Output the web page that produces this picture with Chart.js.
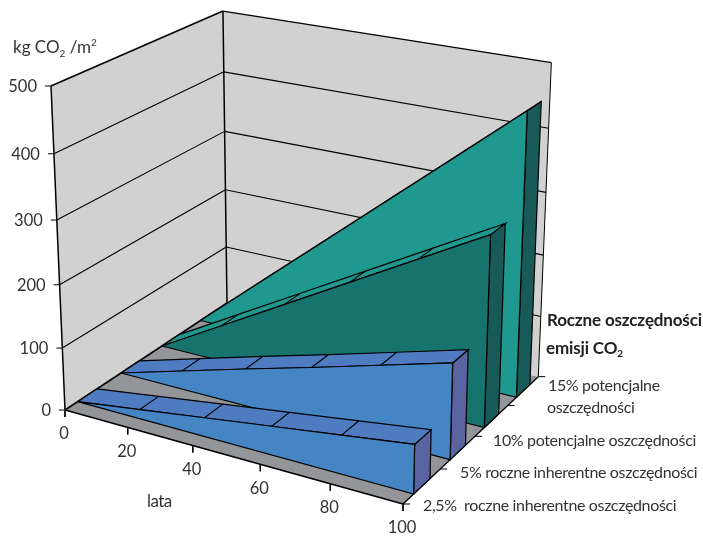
<!DOCTYPE html>
<html><head><meta charset="utf-8">
<style>html,body{margin:0;padding:0;background:#fff}canvas{display:block}</style>
<script src="https://cdn.jsdelivr.net/npm/chart.js@4"></script>
</head><body><canvas id="c" width="703" height="537"></canvas>
<script>
// ---- data ----
const years = [0, 20, 40, 60, 80, 100];
const valueTicks = [0, 100, 200, 300, 400, 500];
const save25 = [0, 15, 30, 45, 60, 75];
const save5  = [0, 30, 60, 89, 119, 149];
const save10 = [0, 60, 120, 180, 240, 300];
const save15 = [0, 90, 180, 270, 360, 450];
const seriesNames = ["2,5%  roczne inherentne oszczędności", "5% roczne inherentne oszczędności", "10% potencjalne oszczędności", "15% potencjalne oszczędności"];

// ---- camera: (years, series position 0..4, value) -> chart units ----
const O=[65,410],T=[403,504],D=[227,303],V=[51,86];
const hT=.912,hD=1.124,hV=.945;
function proj(t,d,v){
  const a=t/100,b=d/4,c=v/500;
  const w=1+a*(hT-1)+b*(hD-1)+c*(hV-1);
  return {
    x:(O[0]+a*(hT*T[0]-O[0])+b*(hD*D[0]-O[0])+c*(hV*V[0]-O[0]))/w,
    y:(O[1]+a*(hT*T[1]-O[1])+b*(hD*D[1]-O[1])+c*(hV*V[1]-O[1]))/w
  };
}
const black='#000';
const ds=[];
function poly(pts,fill,line){ // painted in push order
  ds.push({data:[...pts,pts[0]],showLine:true,fill:'shape',backgroundColor:fill,
    borderColor:line===0?fill:black,borderWidth:line===0?0:(line||1.2),pointRadius:0,tension:0,clip:false});
}
function seg(a,b,w){
  ds.push({data:[a,b],showLine:true,fill:false,borderColor:black,borderWidth:w||1.2,pointRadius:0,tension:0,clip:false});
}
const off=(p,dx,dy)=>({x:p.x+dx,y:p.y+dy});

// walls and floor
poly([proj(0,0,0),proj(100,0,0),proj(100,4,0),proj(0,4,0)],'#939598',0);
poly([proj(0,0,0),proj(0,4,0),proj(0,4,500),proj(0,0,500)],'#d1d1d1',0);
poly([proj(0,4,0),proj(100,4,0),proj(100,4,500),proj(0,4,500)],'#d1d1d1',0);
// gridlines
valueTicks.forEach(v=>{
  if(v===0||v===500)return;
  seg(proj(0,0,v),proj(0,4,v),1.1);
  seg(proj(0,4,v),proj(100,4,v),1.1);
});
// wall frame
seg(proj(0,0,0),proj(0,0,500),1.5);
seg(proj(0,0,500),proj(0,4,500),1.6);
seg(proj(0,4,0),proj(0,4,500),1.5);
seg(proj(0,4,500),proj(100,4,500),1.2);
seg(proj(100,4,0),proj(100,4,500),1);
seg(proj(0,0,0),proj(100,0,0),1.6);
seg(proj(100,0,0),proj(100,4,0),1.3);
seg(proj(0,0,0),proj(0,4,0),1.5);
// ticks
valueTicks.forEach(v=>{const p=proj(0,0,v);seg(off(p,-6,0),p,1);});
years.forEach(t=>{const p=proj(t,0,0);seg(p,off(p,0,7),1);});
[0,1,2,3,4].forEach(d=>{const p=proj(100,d,0);seg(p,off(p,7,0),1);});

// series slabs, back to front
const slabs=[
 {v:save15,pos:3,front:'#1f9890',top:'#1f9890',end:'#175a58'},
 {v:save10,pos:2,front:'#17736e',top:'#1f9890',end:'#175a58'},
 {v:save5, pos:1,front:'#4585c4',top:'#4f7cc0',end:'#5a639f'},
 {v:save25,pos:0,front:'#4585c4',top:'#4f7cc0',end:'#5a639f'}
];
const half=.22;
slabs.forEach(s=>{
  const f=s.pos+.5-half,b=s.pos+.5+half,last=s.v[s.v.length-1];
  poly([proj(100,f,0),proj(100,b,0),proj(100,b,last),proj(100,f,last)],s.end);
  const fr=years.map((t,i)=>proj(t,f,s.v[i])),ba=years.map((t,i)=>proj(t,b,s.v[i]));
  poly([...fr,...ba.slice().reverse()],s.top);
  years.forEach((t,i)=>{ if(i>0&&i<years.length-1) seg(fr[i],ba[i],1.1); });
  poly([proj(0,f,0),proj(100,f,0),...fr.slice().reverse()],s.front);
});
ds.reverse(); // Chart.js paints the first dataset on top

// ---- text ----
const FONT='Lato';
function runs(ctx,x,y,parts,color){
  ctx.fillStyle=color||'#333';ctx.textAlign='left';ctx.textBaseline='alphabetic';
  parts.forEach(p=>{
    ctx.font=(p.b?'bold ':'')+p.s+'px '+FONT;
    ctx.letterSpacing=(p.ls||0)+'px';
    ctx.fillText(p.t,x,y+(p.dy||0));
    x+=ctx.measureText(p.t).width;
  });
  ctx.letterSpacing='0px';
}
const labels={id:'labels',afterDraw(chart){
  const ctx=chart.ctx;ctx.save();
  valueTicks.forEach(v=>{
    const p=proj(0,0,v);ctx.font='16.5px '+FONT;ctx.fillStyle='#333';ctx.textAlign='right';ctx.textBaseline='middle';
    ctx.fillText(String(v),p.x-14,p.y+1);
  });
  years.forEach(t=>{
    const p=proj(t,0,0);ctx.font='16.5px '+FONT;ctx.fillStyle='#333';ctx.textAlign='center';ctx.textBaseline='middle';
    ctx.fillText(String(t),p.x-1,p.y+24);
  });
  const ls=-.35,s=16;
  runs(ctx,13,53,[{t:'kg CO',s:17},{t:'2',s:10,dy:4},{t:' /m',s:17},{t:'2',s:10,dy:-7}]);
  runs(ctx,147,507,[{t:'lata',s:17,ls:-.6}]);
  runs(ctx,547,326,[{t:'Roczne oszczędności',s:17,b:1,ls:-.15}],'#222');
  runs(ctx,546,354,[{t:'emisji CO',s:17,b:1,ls:-.15},{t:'2',s:10,b:1,dy:3}],'#222');
  runs(ctx,548,391,[{t:'15% potencjalne',s,ls}]);
  runs(ctx,547,413,[{t:'oszczędności',s,ls}]);
  runs(ctx,493,446,[{t:seriesNames[2],s,ls}]);
  runs(ctx,460,478,[{t:seriesNames[1],s,ls}]);
  runs(ctx,423,511,[{t:seriesNames[0],s,ls}]);
  ctx.restore();
}};

new Chart(document.getElementById('c'),{
  type:'scatter',
  data:{datasets:ds},
  plugins:[labels],
  options:{responsive:false,animation:false,
    layout:{padding:0},
    plugins:{legend:{display:false},tooltip:{enabled:false},title:{display:false}},
    scales:{
      x:{type:'linear',min:0,max:703,display:false},
      y:{type:'linear',min:0,max:537,reverse:true,display:false}
    }}
});
</script></body></html>
